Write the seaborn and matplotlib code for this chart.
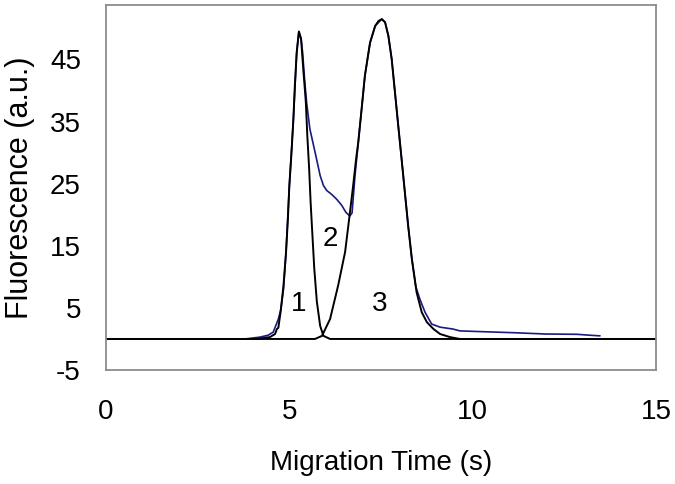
import numpy as np
import pandas as pd
import matplotlib
matplotlib.use('Agg')
import matplotlib.pyplot as plt
import seaborn as sns

# trace 2 (blue)
t_blue = [3.79, 4.20, 4.42, 4.56, 4.70, 4.77, 4.84, 4.91, 5.00, 5.11, 5.20, 5.26,
          5.32, 5.36, 5.41, 5.47, 5.56, 5.70, 5.84, 5.93, 6.02, 6.15, 6.29, 6.43,
          6.54, 6.65, 6.71, 6.79, 6.88, 6.97, 7.06, 7.20, 7.34, 7.52, 7.61, 7.70,
          7.79, 7.88, 7.97, 8.06, 8.15, 8.24, 8.34, 8.45, 8.56, 8.70, 8.88, 9.11,
          9.46, 9.65, 10.14, 11.15, 11.97, 12.84, 13.20, 13.47]
f_blue = [0.0, 0.3, 0.6, 1.1, 3.2, 4.8, 8.0, 14.0, 24.7, 35.4, 46.1, 49.5,
          48.3, 46.2, 42.2, 38.1, 33.8, 30.1, 26.3, 24.7, 23.9, 23.3, 22.5, 21.5,
          20.4, 19.8, 20.3, 26.3, 31.7, 37.0, 42.4, 47.7, 50.4, 51.5, 51.0, 48.8,
          45.1, 39.7, 34.3, 29.0, 23.6, 18.2, 12.9, 8.4, 6.4, 4.3, 2.4, 1.9,
          1.6, 1.3, 1.2, 1.0, 0.8, 0.75, 0.6, 0.5]

# peak 1 (black)
t_p1 = [0.0, 4.11, 4.47, 4.61, 4.66, 4.70, 4.76, 4.84, 4.91, 4.96, 5.00, 5.06,
        5.11, 5.15, 5.20, 5.26, 5.32, 5.38, 5.45, 5.49, 5.54, 5.58, 5.63, 5.68,
        5.75, 5.84, 5.93, 6.11, 15.0]
f_p1 = [0.0, 0.0, 0.3, 0.8, 1.6, 1.8, 4.3, 8.6, 14.0, 19.3, 24.7, 30.1,
        35.4, 40.8, 46.1, 49.5, 48.3, 43.4, 38.1, 32.7, 27.4, 22.0, 16.6, 11.3,
        6.0, 2.1, 0.5, 0.0, 0.0]

# peak 3 (black)
t_p3 = [0.0, 5.70, 5.89, 6.11, 6.33, 6.52, 6.63, 6.74, 6.82, 6.88, 6.97, 7.06,
        7.20, 7.34, 7.43, 7.52, 7.61, 7.70, 7.79, 7.88, 7.97, 8.06, 8.15, 8.24,
        8.34, 8.47, 8.61, 8.75, 8.93, 9.11, 9.38, 9.65, 15.0]
f_p3 = [0.0, 0.0, 0.5, 3.2, 8.6, 14.0, 19.3, 24.7, 29.0, 31.7, 37.0, 42.4,
        47.7, 50.4, 51.2, 51.5, 51.0, 48.8, 45.1, 39.7, 34.3, 29.0, 23.6, 18.2,
        12.9, 7.5, 4.3, 2.7, 1.6, 0.8, 0.3, 0.0, 0.0]

peak_labels = ['1', '2', '3']
label_t = [5.24, 6.11, 7.45]
label_f = [5.6, 16.1, 5.6]

x_ticks = [0, 5, 10, 15]
y_ticks = [-5, 5, 15, 25, 35, 45]

sns.set_style('white')
plt.rcParams['font.family'] = ['Liberation Sans', 'DejaVu Sans']
plt.rcParams['axes.unicode_minus'] = False
plt.rcParams['text.color'] = 'black'
plt.rcParams['axes.labelcolor'] = 'black'

fig, ax = plt.subplots(figsize=(6.75, 4.84), dpi=100)
fig.subplots_adjust(left=0.157, right=0.972, top=0.99, bottom=0.2355)

sns.lineplot(x=t_blue, y=f_blue, sort=False, estimator=None, color='#1a1a80', lw=1.2, ax=ax)
sns.lineplot(x=t_p1, y=f_p1, sort=False, estimator=None, color='black', lw=1.4, ax=ax)
sns.lineplot(x=t_p3, y=f_p3, sort=False, estimator=None, color='black', lw=1.4, ax=ax)

for lab, tx, fy in zip(peak_labels, label_t, label_f):
    ax.text(tx, fy, lab, fontsize=20, ha='center', va='center', color='black')

ax.set_xlim(0, 15)
ax.set_ylim(-5, 53.8)
ax.set_xticks(x_ticks)
ax.set_yticks(y_ticks)
ax.tick_params(direction='in', length=6.5, width=1, color='#606060',
               labelsize=20, labelcolor='black')
ax.tick_params(axis='y', pad=18)
ax.tick_params(axis='x', pad=21)
for s in ax.spines.values():
    s.set_color('#8c8c8c')
    s.set_linewidth(1.3)

ax.set_xlabel('Migration Time (s)', fontsize=20, labelpad=18)
ax.set_ylabel('Fluorescence (a.u.)', fontsize=22, labelpad=11)

fig.savefig('out.png', dpi=100)
